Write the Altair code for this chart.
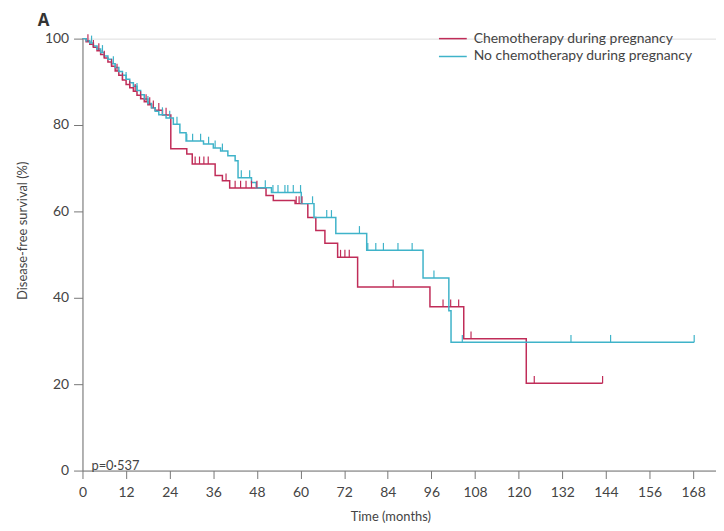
import altair as alt
import pandas as pd

# ---- data ----
groups = ["Chemotherapy during pregnancy", "No chemotherapy during pregnancy"]

times_chemo = [0, 1, 2, 3, 4, 5, 6, 7, 8, 9, 10, 11, 12, 13, 14, 15, 16, 17, 18, 19, 20, 22,
               24.3, 28.7, 30.2, 36.5, 38.5, 40.5, 50.5, 52.5, 58.5, 62, 64.2, 66.7, 70.2,
               75.7, 95.6, 104.9, 122.1]
surv_chemo = [100, 99.3, 98.7, 98, 97.2, 96.3, 95.5, 94.6, 93.6, 92.5, 91.5, 90.4, 89.4, 88.6,
              87.8, 86.9, 86.1, 85.4, 84.7, 84, 83.4, 82.3, 74.5, 73.3, 71, 68.3, 67.1, 65.4,
              63.7, 62.5, 61.8, 58.6, 55.6, 52.6, 49.4, 42.5, 37.9, 30.5, 20.2]
censor_chemo = [1.5, 3, 4.5, 6, 8, 9.5, 11, 13, 14.5, 16, 17.5, 18.5, 19.5, 21, 23, 31, 32.2,
                33.4, 34.6, 39.5, 42, 43.5, 45, 46.5, 48, 58.8, 59.6, 60.4, 71, 72.2, 73.4,
                85.5, 99.2, 101.3, 103.5, 106.9, 124.3, 143.1]

times_nochemo = [0, 1, 2, 3, 4, 5, 6, 7, 8, 9, 10, 11, 12, 13, 14, 15, 16, 17, 18, 19, 20, 21,
                 23, 25, 26.8, 28.5, 33.3, 36, 38, 40, 42, 42.8, 46.5, 47.8, 52, 60.2, 63.7,
                 69.7, 78.2, 93.7, 100.8, 101.4]
surv_nochemo = [100, 99.5, 99, 98.3, 97.6, 96.8, 96, 95.2, 94.2, 93.3, 92.4, 91.5, 90.6, 89.8,
                89, 88, 87, 86, 85, 84, 83.2, 82.4, 81.6, 80.2, 78.2, 76.3, 75.6, 74.7, 74,
                72.9, 71.7, 67.8, 66.7, 65.5, 64.4, 61.8, 58.6, 54.9, 51, 44.6, 37, 29.7]
censor_nochemo = [2.5, 5.5, 8.5, 12, 15, 18, 22, 24, 26, 28.7, 30.3, 32.5, 34.7, 36.5, 38.5,
                  43.7, 46, 50.3, 52.4, 53.8, 55.7, 56.5, 58, 60, 63.3, 67.2, 68.5, 76.2, 78.5,
                  80.7, 82.8, 86.8, 90.7, 96.7, 104.5, 134.4, 145.3, 168.3]

x_ticks = [0, 12, 24, 36, 48, 60, 72, 84, 96, 108, 120, 132, 144, 156, 168]
y_ticks = [0, 20, 40, 60, 80, 100]
colors = ["#c02c58", "#3fb3c9"]


def surv_at(times, surv, t):
    s = surv[0]
    for ti, si in zip(times, surv):
        if ti <= t:
            s = si
    return s


line_rows, cens_rows = [], []
for g, ts, ss, cs in [(groups[0], times_chemo, surv_chemo, censor_chemo),
                      (groups[1], times_nochemo, surv_nochemo, censor_nochemo)]:
    for i, (t, s) in enumerate(zip(ts, ss)):
        line_rows.append({"group": g, "time": t, "surv": s, "order": i})
    line_rows.append({"group": g, "time": max(cs), "surv": ss[-1], "order": len(ts)})
    for c in cs:
        cens_rows.append({"group": g, "time": c, "surv": surv_at(ts, ss, c)})

lines_df = pd.DataFrame(line_rows)
cens_df = pd.DataFrame(cens_rows)

FONT = "Lato"

xscale = alt.Scale(domain=[0, 174.3], nice=False, zero=False)
yscale = alt.Scale(domain=[0, 100], nice=False)
cscale = alt.Scale(domain=groups, range=colors)

lines = alt.Chart(lines_df).mark_line(interpolate="step-after", strokeWidth=1.5).encode(
    x=alt.X("time:Q", scale=xscale,
            axis=alt.Axis(values=x_ticks, title="Time (months)", grid=False, tickSize=8,
                          labelPadding=7, titlePadding=11, labelFontSize=14, titleFontSize=13,
                          labelColor="#444", titleColor="#444", domainColor="#777",
                          tickColor="#777", labelFont=FONT, titleFont=FONT,
                          titleFontWeight="normal", labelFlush=False, titleX=310)),
    y=alt.Y("surv:Q", scale=yscale,
            axis=alt.Axis(values=y_ticks, title="Disease-free survival (%)", grid=False,
                          tickSize=9, labelPadding=5, titlePadding=15, labelFontSize=14,
                          titleFontSize=13, labelColor="#444", titleColor="#444",
                          domainColor="#777", tickColor="#777", labelFont=FONT, titleFont=FONT,
                          titleFontWeight="normal", titleY=193)),
    color=alt.Color("group:N", scale=cscale, legend=None),
    detail="group:N",
    order="order:Q",
)

ticks = alt.Chart(cens_df).mark_rule(strokeWidth=1.2).transform_calculate(
    top="datum.surv + 1.7"
).encode(
    x=alt.X("time:Q", scale=xscale),
    y=alt.Y("surv:Q", scale=yscale),
    y2="top:Q",
    color=alt.Color("group:N", scale=cscale, legend=None),
)

# manual legend (two rows)
legend_layers = []
for i, (g, c) in enumerate(zip(groups, colors)):
    ly = 0 + 18 * i
    legend_layers.append(
        alt.Chart(pd.DataFrame({"label": [g]})).mark_rule(color=c, strokeWidth=1.5).encode(
            x=alt.value(359), x2=alt.value(387), y=alt.value(ly), y2=alt.value(ly)))
    legend_layers.append(
        alt.Chart(pd.DataFrame({"label": [g]})).mark_text(
            align="left", baseline="middle", fontSize=14, color="#444", font=FONT
        ).encode(x=alt.value(394), y=alt.value(ly), text="label:N"))

pval = alt.Chart(pd.DataFrame({"label": ["p=0·537"]})).mark_text(
    align="left", baseline="middle", fontSize=13, color="#444", font=FONT
).encode(x=alt.value(9), y=alt.value(430), text="label:N")

panel = alt.Chart(pd.DataFrame({"label": ["A"]})).mark_text(
    align="left", baseline="middle", fontSize=17, color="#333", font="Open Sans",
    fontWeight="bold"
).encode(x=alt.value(-45), y=alt.value(-18), text="label:N")

chart = alt.layer(lines, ticks, pval, panel, *legend_layers).properties(
    width=638, height=435,
    padding={"left": 75, "top": 29, "right": 0, "bottom": 56},
    autosize=alt.AutoSizeParams(type="none"),
).configure_view(stroke=None).configure(background="white")

chart.save("out.html", embed_options={"renderer": "svg", "actions": False})
